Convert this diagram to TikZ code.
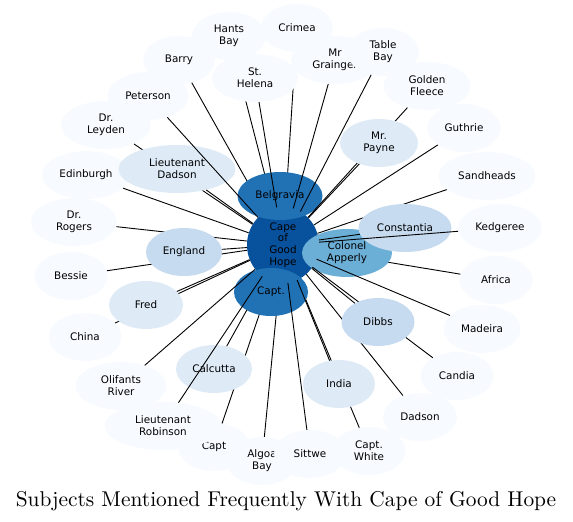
\documentclass[tikz,border=0pt]{standalone}
\usepackage{fontspec}
\newfontfamily\subjfont{DejaVu Sans}
\newfontfamily\titlefont{lmroman10-regular}[Extension=.otf]
\usepackage{tikz}
\usetikzlibrary{shapes.geometric}
\definecolor{bluefaint}{HTML}{F7FBFF}
\definecolor{bluelight}{HTML}{DEEBF7}
\definecolor{bluesoft}{HTML}{C6DBEF}
\definecolor{bluemid}{HTML}{6BAED6}
\definecolor{bluestrong}{HTML}{2171B5}
\definecolor{bluedeep}{HTML}{08519C}
\tikzset{
  subj/.style={ellipse, fill=bluefaint, inner sep=0pt, minimum width=72pt,
    minimum height=48pt, align=center, font=\subjfont\fontsize{10.4}{11.8}\selectfont},
  link/.style={draw=black, line width=0.9pt},
}

\begin{document}
\begin{tikzpicture}[x=1pt, y=-1pt]
\useasboundingbox (0,0) rectangle (573,522);

% centre
\node[subj, fill=bluedeep, minimum width=72pt, minimum height=76pt] (cgh) at (283,245) {Cape\\of\\Good\\Hope};

% top
\node[subj, minimum width=74pt] (hants) at (229,36) {Hants\\Bay};
\draw[link] (hants) -- (cgh);
\node[subj] (crimea) at (297,28) {Crimea};
\draw[link] (crimea) -- (cgh);
\node[subj] (barry) at (179,60) {Barry};
\draw[link] (barry) -- (cgh);
\node[subj, fill=bluestrong, minimum width=85pt] (belgravia) at (280,196) {Belgravia};
\node[subj, minimum width=86pt] (sthelena) at (255,78) {St.\\Helena};
\draw[link] (sthelena) -- (cgh);
\node[subj, minimum width=88pt] (grainger) at (335,60) {Mr\\Grainger};
\draw[link] (grainger) -- (cgh);
\node[subj] (tablebay) at (383,52) {Table\\Bay};
\draw[link] (tablebay) -- (cgh);

% right
\node[subj, minimum width=87pt] (fleece) at (427,86) {Golden\\Fleece};
\draw[link] (fleece) -- (cgh);
\node[subj, fill=bluelight, minimum width=78pt] (payne) at (379,143) {Mr.\\Payne};
\draw[link] (payne) -- (cgh);
\node[subj, minimum width=73pt] (guthrie) at (464,128) {Guthrie};
\draw[link] (guthrie) -- (cgh);
\node[subj, minimum width=97pt] (sandheads) at (487,176) {Sandheads};
\draw[link] (sandheads) -- (cgh);
\node[subj, minimum width=73pt] (africa) at (496,280) {Africa};
\draw[link] (africa) -- (cgh);
\node[subj, fill=bluemid, minimum width=90pt] (apperly) at (347,253) {Colonel\\Apperly};
\node[subj, fill=bluesoft, minimum width=93pt] (constantia) at (405,228) {Constantia};
\draw[link] (constantia) -- (cgh);
\node[subj, minimum width=84pt] (kedgeree) at (500,228) {Kedgeree};
\draw[link] (kedgeree) -- (cgh);
\node[subj, minimum width=77pt] (madeira) at (482,329) {Madeira};
\draw[link] (madeira) -- (cgh);
\node[subj, minimum width=73pt] (candia) at (457,376) {Candia};
\draw[link] (candia) -- (cgh);
\node[subj, minimum width=74pt] (dadson) at (420,417) {Dadson};
\draw[link] (dadson) -- (cgh);
\node[subj, fill=bluesoft, minimum width=73pt] (dibbs) at (378,322) {Dibbs};
\draw[link] (dibbs) -- (cgh);

% bottom
\node[subj, minimum width=73pt] (captwhite) at (369,451) {Capt.\\White};
\draw[link] (captwhite) -- (cgh);
\node[subj] (algoa) at (262,461) {Algoa\\Bay};
\draw[link] (algoa) -- (cgh);
\node[subj] (capt) at (214,447) {Capt};
\draw[link] (capt) -- (cgh);
\node[subj, fill=bluelight, minimum width=76pt] (calcutta) at (214,369) {Calcutta};
\draw[link] (calcutta) -- (cgh);
\node[subj, fill=bluestrong, minimum width=74pt] (captdot) at (271,292) {Capt.};
\node[subj, fill=bluelight] (india) at (339,384) {India};
\draw[link] (india) -- (cgh);
\node[subj] (sittwe) at (310,454) {Sittwe};
\draw[link] (sittwe) -- (cgh);
\node[subj, minimum width=117pt] (robinson) at (163,426) {Lieutenant\\Robinson};
\draw[link] (robinson) -- (cgh);

% left
\node[subj, minimum width=91pt] (olifants) at (121,386) {Olifants\\River};
\draw[link] (olifants) -- (cgh);
\node[subj, minimum width=73pt] (china) at (85,337) {China};
\draw[link] (china) -- (cgh);
\node[subj, fill=bluelight, minimum width=74pt] (fred) at (146,305) {Fred};
\draw[link] (fred) -- (cgh);
\node[subj, minimum width=73pt] (bessie) at (71,276) {Bessie};
\draw[link] (bessie) -- (cgh);
\node[subj, minimum width=86pt] (rogers) at (74,222) {Dr.\\Rogers};
\draw[link] (rogers) -- (cgh);
\node[subj, fill=bluesoft, minimum width=76pt] (england) at (184,252) {England};
\draw[link] (england) -- (cgh);
\node[subj, minimum width=88pt] (edinburgh) at (86,175) {Edinburgh};
\draw[link] (edinburgh) -- (cgh);
\node[subj, minimum width=90pt] (leyden) at (106,125) {Dr.\\Leyden};
\draw[link] (leyden) -- (cgh);
\node[subj, fill=bluelight, minimum width=117pt] (ltdadson) at (177,169) {Lieutenant\\Dadson};
\draw[link] (ltdadson) -- (cgh);
\node[subj, minimum width=81pt] (peterson) at (148,96) {Peterson};
\draw[link] (peterson) -- (cgh);

% title
\node[anchor=base, font=\titlefont\fontsize{21.4}{24}\selectfont] (title) at (286,506) {Subjects Mentioned Frequently With Cape of Good Hope};
\end{tikzpicture}
\end{document}
